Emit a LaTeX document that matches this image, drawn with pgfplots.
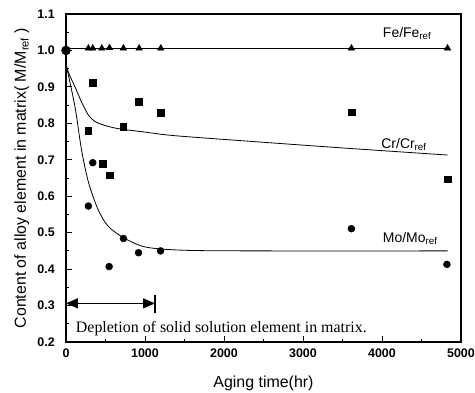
\documentclass[border=0pt]{standalone}
\usepackage{fontspec}
\setmainfont{Liberation Sans}
\newfontfamily\serifTimes{Liberation Serif}
\usepackage{pgfplots}
\pgfplotsset{compat=1.18}
\usetikzlibrary{arrows.meta}
\begin{document}
\begin{tikzpicture}
\path[use as bounding box] (-66bp,-51bp) rectangle (409bp,342bp);
\begin{axis}[
  scale only axis, width=395bp, height=328bp,
  xmin=0, xmax=5000, ymin=0.2, ymax=1.1,
  xtick={0,1000,2000,3000,4000,5000},
  ytick={0.2,0.3,0.4,0.5,0.6,0.7,0.8,0.9,1.0,1.1},
  minor x tick num=1, minor y tick num=1,
  xtick pos=bottom, ytick pos=left, tick align=inside,
  major tick length=6bp, minor tick length=3.5bp,
  axis line style={line width=1.3bp},
  every tick/.style={black, line width=0.9bp},
  clip=false,
  /pgf/number format/assume math mode=true,
  xticklabel style={font=\bfseries\fontsize{12.5}{12.5}\selectfont, anchor=base, yshift=-15bp, /pgf/number format/1000 sep={}},
  yticklabel style={font=\bfseries\fontsize{12.5}{12.5}\selectfont, inner sep=0pt, xshift=-11bp, /pgf/number format/.cd, fixed, fixed zerofill, precision=1},
  label style={font=\fontsize{16}{18}\selectfont},
  xlabel={Aging time(hr)},
  ylabel={Content of alloy element in matrix( M/M\textsubscript{ref} )},
  xlabel style={at={(axis description cs:0.5,-0.1393)}, anchor=base},
  ylabel style={at={(axis description cs:-0.1013,0.5)}, anchor=base},
]
% Fe fit line
\addplot[black, line width=0.8bp] coordinates {(0,1.005) (4830,1.005)};
% Cr fit curve
\addplot[black, line width=0.8bp, smooth, tension=0.5] coordinates {
(0,0.962) (40,0.935) (114,0.900) (200,0.857) (283,0.823) (360,0.806) (453,0.797) (580,0.789) (707,0.784) (1000,0.776) (1383,0.766) (2500,0.748) (3600,0.731) (4830,0.713)};
% Mo fit curve
\addplot[black, line width=0.8bp, smooth, tension=0.5] coordinates {
(0,0.962) (114,0.845) (196,0.728) (285,0.638) (405,0.564) (532,0.518) (722,0.487) (962,0.463) (1215,0.455) (1633,0.451) (2500,0.450) (4830,0.450)};
% Fe data
\addplot[only marks, mark=triangle*, mark size=3.8bp, black] coordinates {
(283,1.006) (339,1.006) (453,1.006) (550,1.007) (727,1.006) (926,1.006) (1200,1.006) (3613,1.006) (4830,1.006)};
% Cr data
\addplot[only marks, mark=square*, mark size=3.3bp, black] coordinates {
(283,0.779) (339,0.911) (461,0.690) (555,0.658) (723,0.790) (922,0.859) (1197,0.830) (3613,0.831) (4830,0.647)};
% Mo data
\addplot[only marks, mark=*, mark size=3.5bp, black] coordinates {
(283,0.573) (339,0.692) (546,0.407) (727,0.484) (918,0.445) (1197,0.450) (3613,0.511) (4822,0.413)};
% reference point at t = 0
\addplot[only marks, mark=*, mark size=4.5bp, black] coordinates {(0,1.0)};
\node[anchor=base west, inner sep=0pt, font=\fontsize{14}{16}\selectfont] at (axis cs:4010,1.036) {Fe/Fe\textsubscript{ref}};
\node[anchor=base west, inner sep=0pt, font=\fontsize{14}{16}\selectfont] at (axis cs:3990,0.732) {Cr/Cr\textsubscript{ref}};
\node[anchor=base west, inner sep=0pt, font=\fontsize{14}{16}\selectfont] at (axis cs:4010,0.474) {Mo/Mo\textsubscript{ref}};
\draw[line width=1.3bp, {Triangle[length=12bp,width=10bp]}-{Triangle[length=12bp,width=10bp]}] (axis cs:0,0.306) -- (axis cs:1127,0.306);
\draw[line width=1.3bp] (axis cs:1127,0.279) -- (axis cs:1127,0.329);
\node[anchor=base west, inner sep=0pt, font=\serifTimes\fontsize{16}{18}\selectfont] at (axis cs:123,0.225) {Depletion of solid solution element in matrix.};
\end{axis}
\end{tikzpicture}
\end{document}
